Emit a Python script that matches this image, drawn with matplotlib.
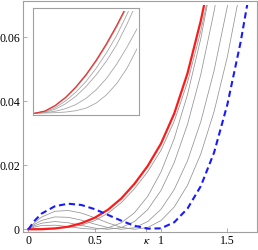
import matplotlib
matplotlib.use("Agg")
import matplotlib.pyplot as plt
from matplotlib.patches import Rectangle

plt.rcParams["font.family"] = ["Liberation Serif", "DejaVu Serif"]
plt.rcParams["mathtext.fontset"] = "stix"

# main panel: kappa grid and curves
kappa = [0, 0.05, 0.1, 0.2, 0.3, 0.4, 0.5, 0.6, 0.7, 0.8, 0.9,
         1.0, 1.1, 1.2, 1.3, 1.4, 1.5, 1.6, 1.7]
red = [0, 0.00001, 0.00003, 0.00025, 0.0008, 0.0019, 0.0036, 0.0061, 0.0096,
       0.0142, 0.0198, 0.0268, 0.0362, 0.0488, 0.0652, 0.0850]
blue = [0, 0.0028, 0.0049, 0.0072, 0.0080, 0.0076, 0.0063, 0.0045, 0.0027,
        0.0011, 0.0002, 0.0003, 0.0022, 0.0065, 0.0135, 0.0240, 0.0390,
        0.0585, 0.0820]
grays = [
    [0, 0.0002, 0.0003, 0.0004, 0.0006, 0.0013, 0.0027, 0.0050, 0.0083,
     0.0127, 0.0180, 0.0247, 0.0338, 0.0460, 0.0620, 0.0810],
    [0, 0.00073, 0.00115, 0.00129, 0.00086, 0.00029, 0, 0.00043, 0.00201,
     0.00516, 0.01032, 0.01793, 0.02839, 0.04216, 0.05965, 0.08131],
    [0, 0.00115, 0.0019, 0.00243, 0.00205, 0.00122, 0.00038, 0, 0.00053,
     0.00243, 0.00616, 0.01216, 0.0209, 0.03283, 0.04841, 0.0681, 0.09234],
    [0, 0.00162, 0.00277, 0.00387, 0.00375, 0.00286, 0.00164, 0.00054,
     0.00001, 0.00048, 0.00242, 0.00626, 0.01245, 0.02144, 0.03367, 0.04959,
     0.06965, 0.09429],
    [0, 0.00218, 0.00381, 0.00562, 0.00589, 0.00508, 0.00363, 0.002, 0.00064,
     0.00001, 0.00055, 0.00273, 0.00698, 0.01378, 0.02357, 0.03679, 0.05392,
     0.07539],
]
xtick_vals = [0, 0.5, 0.89, 1, 1.5]
xtick_labels = ["0", "0.5", r"$\kappa$", "1", "1.5"]
ytick_vals = [0, 0.02, 0.04, 0.06]
ytick_labels = ["0", "0.02", "0.04", "0.06"]

# inset: normalised coordinates (no axes shown)
ins_x = [0, 0.1, 0.2, 0.3, 0.4, 0.5, 0.6, 0.7, 0.8, 0.9, 1.0]
ins_red = [0, 0.022, 0.076, 0.154, 0.255, 0.376, 0.518, 0.678, 0.857, 1.053]
ins_grays = [
    [0, 0.02, 0.072, 0.148, 0.246, 0.365, 0.505, 0.664, 0.84, 1.035],
    [0, 0.015, 0.055, 0.12, 0.205, 0.31, 0.44, 0.59, 0.76, 0.965, 1.19],
    [0, 0.01, 0.04, 0.092, 0.165, 0.26, 0.375, 0.51, 0.67, 0.87, 1.09],
    [0, 0.006, 0.02, 0.045, 0.085, 0.145, 0.23, 0.34, 0.48, 0.645, 0.828],
    [0, 0.003, 0.006, 0.012, 0.025, 0.05, 0.10, 0.18, 0.29, 0.44, 0.634],
]

frame_col = "#a0a0a0"
gray_col = "#939393"

fig = plt.figure(figsize=(2.58, 2.5), dpi=100)
ax = fig.add_axes([0.0903, 0.0732, 0.9047, 0.9228])
clip = Rectangle((-1, -1), 5, 1.07, transform=ax.transData)

for g in grays:
    ln, = ax.plot(kappa[:len(g)], g, color=gray_col, lw=0.55)
    ln.set_clip_path(clip)
ln, = ax.plot(kappa[:len(red)], red, color="#ff1a1a", lw=1.6)
ln.set_clip_path(clip)
ln, = ax.plot(kappa, blue, color="#1a1aff", lw=1.5, ls=(0, (3, 1.8)))
ln.set_clip_path(clip)

ax.set_xlim(-0.0377, 1.7212)
ax.set_ylim(-0.00075, 0.07134)
ax.set_xticks(xtick_vals, xtick_labels)
ax.set_yticks(ytick_vals, ytick_labels)
ax.tick_params(direction="in", length=3, width=0.6, color=frame_col,
               labelsize=8.5, pad=2.5)
for s in ax.spines.values():
    s.set_color(frame_col)
    s.set_linewidth(0.8)

axi = fig.add_axes([0.1267, 0.54, 0.4132, 0.4292])
clip_i = Rectangle((-1, -1), 2, 2, transform=axi.transData)
for g in ins_grays:
    ln, = axi.plot(ins_x[:len(g)], g, color="#a6a6a6", lw=0.6)
    ln.set_clip_path(clip_i)
ln, = axi.plot(ins_x[:len(ins_red)], ins_red, color="#e83030", lw=0.9)
ln.set_clip_path(clip_i)
axi.set_xlim(-0.0195, 1.0195)
axi.set_ylim(-0.0166, 1.029)
axi.set_xticks([])
axi.set_yticks([])
for s in axi.spines.values():
    s.set_color(frame_col)
    s.set_linewidth(0.8)

fig.savefig("out.png", dpi=100)
